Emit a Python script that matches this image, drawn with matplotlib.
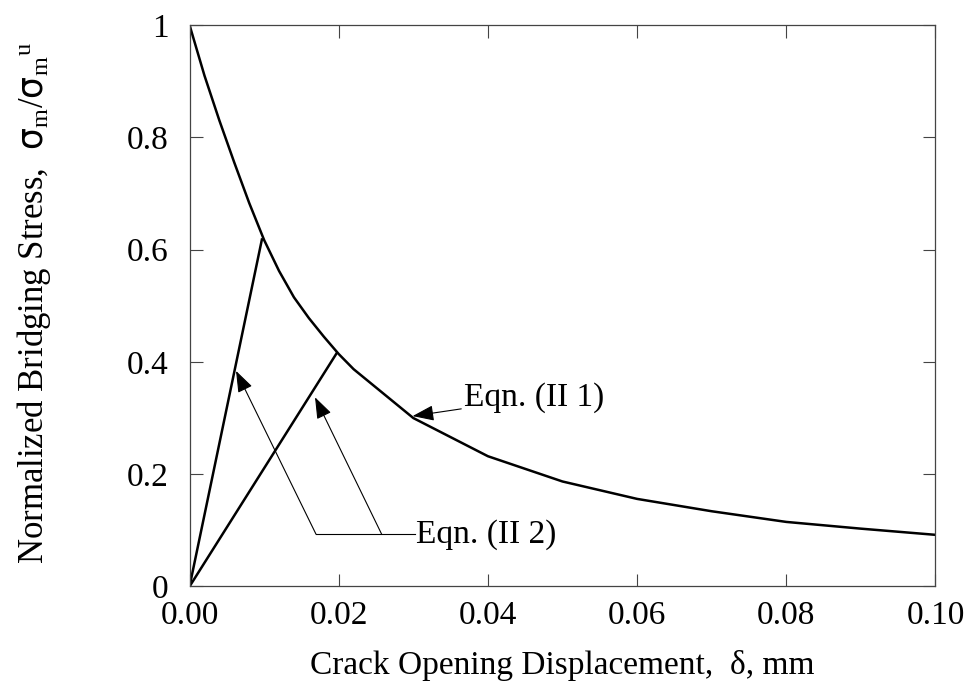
import matplotlib
matplotlib.use("Agg")
from matplotlib import pyplot as plt

plt.rcParams['font.family'] = ['Liberation Serif', 'DejaVu Serif']
plt.rcParams['mathtext.fontset'] = 'custom'
plt.rcParams['mathtext.rm'] = 'Liberation Serif'
plt.rcParams['mathtext.it'] = 'Liberation Serif:italic'
plt.rcParams['mathtext.sf'] = 'DejaVu Sans'

# bridging stress curve, Eqn. (II 1)
cod = [0.0, 0.002, 0.004, 0.006, 0.008, 0.010, 0.012, 0.014, 0.016, 0.018,
       0.020, 0.022, 0.030, 0.040, 0.050, 0.060, 0.070, 0.080, 0.090, 0.100]
stress = [1.0, 0.91, 0.83, 0.755, 0.683, 0.617, 0.562, 0.515, 0.478, 0.445,
          0.414, 0.387, 0.300, 0.232, 0.187, 0.156, 0.134, 0.115, 0.103, 0.092]

# linear loading lines, Eqn. (II 2)
line1_x = [0.0, 0.0097]
line1_y = [0.0, 0.618]
line2_x = [0.0, 0.0197]
line2_y = [0.0, 0.415]

xticks = [0.0, 0.02, 0.04, 0.06, 0.08, 0.10]
xticklabels = ['0.00', '0.02', '0.04', '0.06', '0.08', '0.10']
yticks = [0, 0.2, 0.4, 0.6, 0.8, 1]
yticklabels = ['0', '0.2', '0.4', '0.6', '0.8', '1']

fig = plt.figure(figsize=(9.7, 6.93), dpi=100)
ax = fig.add_axes([0.1954, 0.1537, 0.769, 0.8102])

ax.plot(cod, stress, color='black', lw=1.8)
ax.plot(line1_x, line1_y, color='black', lw=1.8)
ax.plot(line2_x, line2_y, color='black', lw=1.8)

ax.set_xlim(0, 0.1)
ax.set_ylim(0, 1)
ax.set_xticks(xticks)
ax.set_xticklabels(xticklabels)
ax.set_yticks(yticks)
ax.set_yticklabels(yticklabels)
ax.tick_params(direction='in', length=9, width=0.8, colors='#444444',
               labelcolor='black', labelsize=24, top=True, right=True)
ax.tick_params(axis='x', pad=10)
ax.tick_params(axis='y', pad=15)
for s in ax.spines.values():
    s.set_color('#444444')
    s.set_linewidth(0.9)

ax.set_xlabel('Crack Opening Displacement,  \u03b4, mm', fontsize=24, labelpad=14)
ax.set_ylabel(r'Normalized Bridging Stress,  $\mathsf{\sigma}_{\rm m}/\mathsf{\sigma}_{\rm m}{}^{\rm u}$',
              fontsize=25)
ax.yaxis.set_label_coords(-0.183, 0.505)

arrow = dict(arrowstyle='-|>,head_length=1.1,head_width=0.4', color='black', lw=0.8,
             shrinkA=0, shrinkB=0, mutation_scale=12)

# Eqn. (II 1) label
ax.annotate('Eqn. (II 1)', xy=(0.0299, 0.3035), xytext=(0.0368, 0.3356),
            fontsize=24, va='center', ha='left', arrowprops=arrow)

# Eqn. (II 2) label with leader lines
ax.plot([0.01696, 0.0302], [0.093, 0.093], color='black', lw=0.8)
ax.annotate('', xy=(0.00623, 0.384), xytext=(0.01696, 0.093), arrowprops=arrow)
ax.annotate('', xy=(0.01682, 0.337), xytext=(0.02576, 0.093), arrowprops=arrow)
ax.text(0.0303, 0.093, 'Eqn. (II 2)', fontsize=24, va='center', ha='left')

fig.savefig('out.png', dpi=100)
